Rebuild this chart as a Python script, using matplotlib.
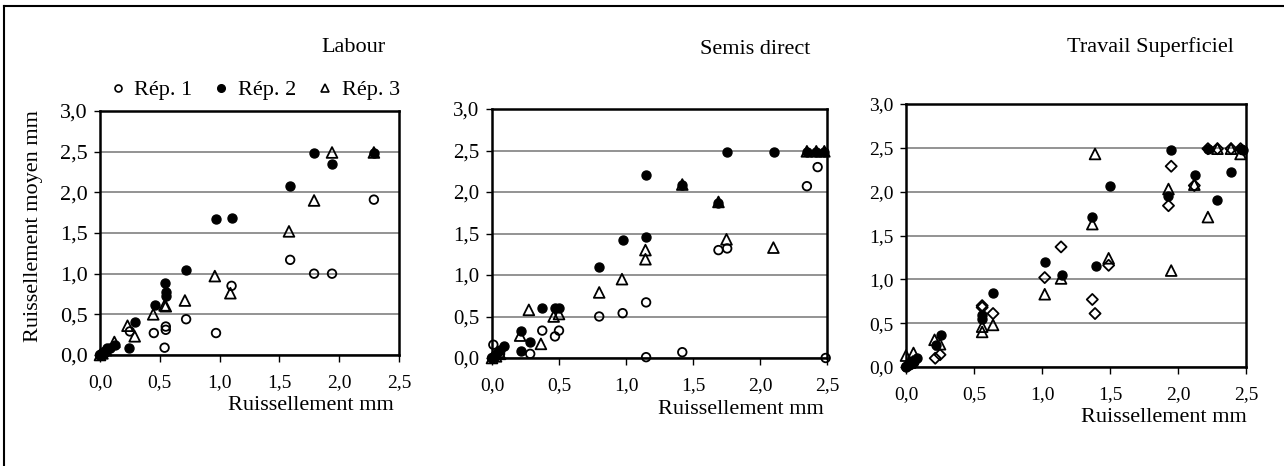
import numpy as np
import matplotlib
matplotlib.use("Agg")
import matplotlib.pyplot as plt
from matplotlib.lines import Line2D

plt.rcParams['font.family'] = ['Liberation Serif', 'DejaVu Serif']

# ---- data ----
panel_titles = ["Labour", "Semis direct", "Travail Superficiel"]
series_names = ["Rép. 1", "Rép. 2", "Rép. 3"]
x_ticks = [0.0, 0.5, 1.0, 1.5, 2.0, 2.5]
x_tick_labels = ["0,0", "0,5", "1,0", "1,5", "2,0", "2,5"]
y_ticks = [0.0, 0.5, 1.0, 1.5, 2.0, 2.5, 3.0]
y_tick_labels = ["0,0", "0,5", "1,0", "1,5", "2,0", "2,5", "3,0"]

# Labour
lab_r1_x = [0.0, 0.02, 0.04, 0.25, 0.45, 0.55, 0.55, 0.54, 0.72, 0.97, 1.10, 1.59, 1.79, 1.94, 2.29]
lab_r1_y = [0.0, 0.01, 0.03, 0.29, 0.27, 0.35, 0.31, 0.09, 0.44, 0.27, 0.85, 1.17, 1.00, 1.00, 1.91]
lab_r2_x = [0.0, 0.01, 0.02, 0.03, 0.04, 0.05, 0.06, 0.08, 0.125, 0.245, 0.29, 0.46, 0.54, 0.55, 0.55,
            0.72, 0.97, 1.10, 1.59, 1.79, 1.94, 2.29]
lab_r2_y = [0.0, 0.01, 0.02, 0.03, 0.04, 0.05, 0.08, 0.09, 0.12, 0.08, 0.40, 0.61, 0.88, 0.77, 0.72,
            1.04, 1.67, 1.69, 2.08, 2.48, 2.35, 2.48]
lab_r3_x = [0.0, 0.02, 0.05, 0.12, 0.23, 0.29, 0.445, 0.54, 0.55, 0.71, 0.96, 1.09, 1.58, 1.79, 1.94, 2.29]
lab_r3_y = [0.0, 0.02, 0.06, 0.16, 0.36, 0.23, 0.50, 0.61, 0.60, 0.67, 0.97, 0.76, 1.52, 1.90, 2.49, 2.49]

# Semis direct
sd_r1_x = [0.01, 0.0, 0.03, 0.06, 0.285, 0.375, 0.47, 0.50, 0.80, 0.975, 1.15, 1.15, 1.42, 1.69, 1.755,
           2.35, 2.43, 2.49]
sd_r1_y = [0.16, 0.0, 0.02, 0.05, 0.05, 0.33, 0.26, 0.33, 0.50, 0.54, 0.67, 0.01, 0.07, 1.30, 1.32,
           2.07, 2.30, 0.0]
sd_r2_x = [0.0, 0.02, 0.04, 0.06, 0.09, 0.22, 0.22, 0.28, 0.375, 0.47, 0.50, 0.80, 0.98, 1.15, 1.15,
           1.42, 1.69, 1.755, 2.105, 2.35, 2.42, 2.48]
sd_r2_y = [0.0, 0.03, 0.06, 0.10, 0.15, 0.33, 0.08, 0.19, 0.60, 0.60, 0.60, 1.10, 1.42, 2.21, 1.46,
           2.08, 1.87, 2.48, 2.48, 2.48, 2.48, 2.48]
sd_r3_x = [0.0, 0.03, 0.06, 0.21, 0.275, 0.365, 0.46, 0.50, 0.80, 0.97, 1.145, 1.145, 1.42, 1.69, 1.75,
           2.10, 2.35, 2.42, 2.48]
sd_r3_y = [0.0, 0.02, 0.05, 0.27, 0.58, 0.17, 0.50, 0.53, 0.79, 0.95, 1.30, 1.19, 2.09, 1.88, 1.43,
           1.33, 2.49, 2.49, 2.49]

# Travail superficiel
ts_r1_x = [0.0, 0.02, 0.04, 0.06]
ts_r1_y = [0.0, 0.02, 0.03, 0.05]
ts_r2_x = [0.0, 0.02, 0.04, 0.06, 0.08, 0.22, 0.26, 0.56, 0.56, 0.64, 1.02, 1.15, 1.37, 1.40, 1.50,
           1.95, 1.93, 2.125, 2.29, 2.39, 2.22, 2.46, 2.48]
ts_r2_y = [0.0, 0.02, 0.05, 0.07, 0.10, 0.25, 0.36, 0.55, 0.59, 0.84, 1.20, 1.05, 1.71, 1.15, 2.07,
           2.47, 1.95, 2.19, 1.91, 2.22, 2.49, 2.49, 2.48]
ts_r3_x = [0.0, 0.055, 0.03, 0.21, 0.25, 0.56, 0.56, 0.64, 1.02, 1.14, 1.37, 1.39, 1.49, 1.93, 1.95,
           2.12, 2.22, 2.29, 2.39, 2.46]
ts_r3_y = [0.13, 0.16, 0.05, 0.31, 0.26, 0.40, 0.46, 0.48, 0.83, 1.01, 1.63, 2.43, 1.24, 2.03, 1.10,
           2.08, 1.71, 2.49, 2.49, 2.43]
ts_r4_x = [0.02, 0.05, 0.215, 0.25, 0.56, 0.56, 0.64, 1.02, 1.14, 1.37, 1.39, 1.49, 1.93, 1.95, 2.12,
           2.22, 2.29, 2.39, 2.46]
ts_r4_y = [0.03, 0.06, 0.10, 0.14, 0.70, 0.68, 0.61, 1.02, 1.37, 0.77, 0.61, 1.16, 1.84, 2.29, 2.07,
           2.49, 2.49, 2.49, 2.49]

panels = [
    [(lab_r1_x, lab_r1_y), (lab_r2_x, lab_r2_y), (lab_r3_x, lab_r3_y)],
    [(sd_r1_x, sd_r1_y), (sd_r2_x, sd_r2_y), (sd_r3_x, sd_r3_y)],
    [(ts_r1_x, ts_r1_y), (ts_r2_x, ts_r2_y), (ts_r3_x, ts_r3_y), (ts_r4_x, ts_r4_y)],
]

# marker style per series
styles = [
    dict(marker="o", s=38, facecolors="none", edgecolors="black", linewidths=1.3),
    dict(marker="o", s=42, facecolors="black", edgecolors="black", linewidths=1.0),
    dict(marker="^", s=60, facecolors="none", edgecolors="black", linewidths=1.3),
    dict(marker="D", s=32, facecolors="none", edgecolors="black", linewidths=1.3),
]

W, H = 1284, 466
fig = plt.figure(figsize=(W / 100, H / 100), dpi=100)

# axes boxes in pixels: left, top, right, bottom
boxes = [(100, 111, 399, 355), (492, 109, 827, 358), (906, 104, 1246, 367)]
ytick_sizes = [16, 15, 14]
title_pos = [(353, 48), (755, 49), (1150, 47)]
xlabel_pos = [(394, 405), (824, 410), (1247, 418)]

axes = []
for i, (l, t, r, b) in enumerate(boxes):
    ax = fig.add_axes([l / W, (H - b) / H, (r - l) / W, (b - t) / H])
    for j, (xs, ys) in enumerate(panels[i]):
        ax.scatter(xs, ys, zorder=3, clip_on=False, **styles[j])
    ax.set_xlim(0, 2.5)
    ax.set_ylim(0, 3.0)
    ax.set_xticks(x_ticks)
    ax.set_xticklabels(x_tick_labels)
    ax.set_yticks(y_ticks)
    ax.set_yticklabels(y_tick_labels)
    ax.tick_params(axis="x", direction="out", length=5, width=1, pad=9, labelsize=14)
    ax.tick_params(axis="y", direction="out", length=4, width=1, pad=5, labelsize=ytick_sizes[i])
    ax.yaxis.grid(True, color="#808080", lw=1.2)
    ax.set_axisbelow(True)
    for sp in ax.spines.values():
        sp.set_linewidth(1.8)
        sp.set_color("black")
    fig.text(title_pos[i][0] / W, 1 - title_pos[i][1] / H, panel_titles[i],
             ha="center", va="center", fontsize=16)
    fig.text(xlabel_pos[i][0] / W, 1 - xlabel_pos[i][1] / H, "Ruissellement mm",
             ha="right", va="center", fontsize=16)
    axes.append(ax)

fig.text(34 / W, 1 - 226 / H, "Ruissellement moyen mm", rotation=90,
         ha="center", va="center", fontsize=16)

# legend above first panel
handles = [
    Line2D([], [], ls="none", marker="o", ms=5, mfc="none", mec="black", mew=1.2),
    Line2D([], [], ls="none", marker="o", ms=5.5, mfc="black", mec="black"),
    Line2D([], [], ls="none", marker="^", ms=6, mfc="none", mec="black", mew=1.2),
]
fig.legend(handles, series_names, loc="center left", bbox_to_anchor=(111 / W, 1 - 90 / H),
           ncol=3, frameon=False, fontsize=16, handlelength=0.6, handletextpad=0.45,
           columnspacing=1.0, borderaxespad=0, borderpad=0)

# outer frame (left and top edges visible)
fig.add_artist(Line2D([4 / W, 4 / W], [0, 1 - 6 / H], color="black", lw=1.5))
fig.add_artist(Line2D([4 / W, 1], [1 - 6 / H, 1 - 6 / H], color="black", lw=1.5))

fig.savefig("out.png", dpi=100)
